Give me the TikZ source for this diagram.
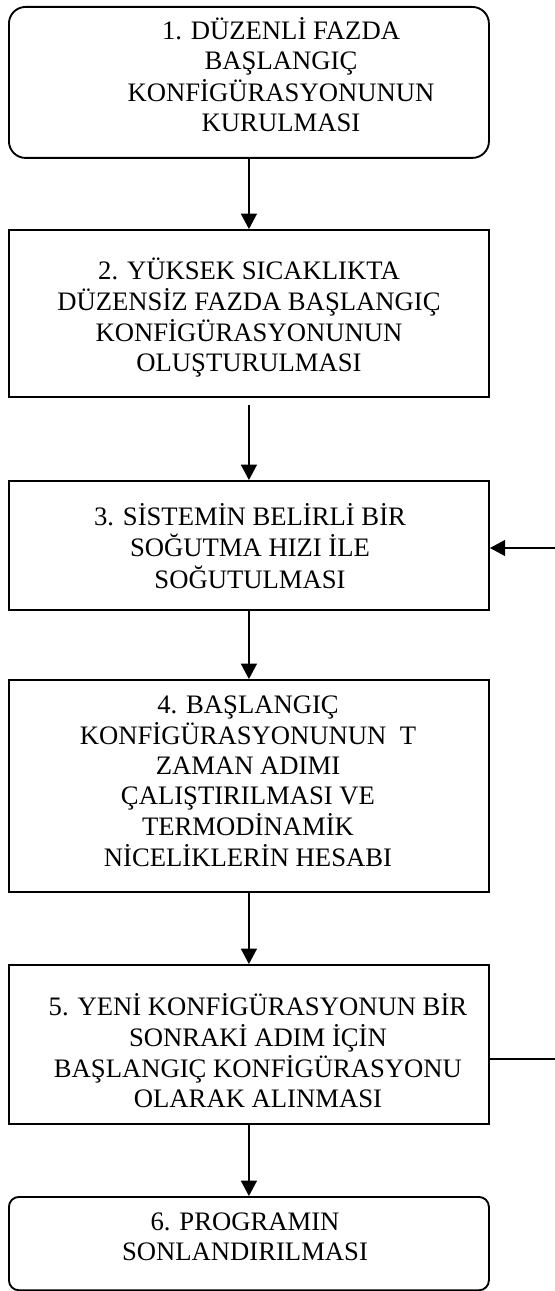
\documentclass[tikz,border=0pt]{standalone}
\usepackage{fontspec}
\setmainfont{Liberation Serif}
\usetikzlibrary{arrows.meta}
\begin{document}
\begin{tikzpicture}[x=0.75pt,y=-0.75pt,
  boxline/.style={draw=black,line width=1.4pt},
  stepbox/.style={boxline,rectangle,anchor=north west,inner sep=0pt},
  roundbox/.style={stepbox,rounded corners=#1},
  txt/.style={anchor=base,inner sep=0pt,font=\fontsize{20pt}{22.5pt}\selectfont},
  arr/.style={draw=black,line width=1pt,-{Triangle[length=11.5pt,width=12pt]}}]
\useasboundingbox (0,0) rectangle (555,1291);
\def\lns#1{\setlength\tabcolsep{0pt}\begin{tabular}[t]{c}#1\end{tabular}}
% boxes
\node[roundbox=12.5pt,minimum width=360pt,minimum height=113.25pt] (b1) at (8,6) {};
\node[stepbox,minimum width=360pt,minimum height=125.25pt] (b2) at (8,229) {};
\node[stepbox,minimum width=360pt,minimum height=96.75pt] (b3) at (8,480) {};
\node[stepbox,minimum width=360pt,minimum height=159pt] (b4) at (8,679) {};
\node[stepbox,minimum width=360pt,minimum height=119.25pt] (b5) at (8,964) {};
\node[roundbox=7.5pt,minimum width=360pt,minimum height=70pt] (b6) at (8,1196) {};
% texts
\node[txt] (t1) at (281,40) {\lns{1. DÜZENLİ FAZDA\\BAŞLANGIÇ\\KONFİGÜRASYONUNUN\\KURULMASI}};
\node[txt] (t2) at (249,279) {\lns{2. YÜKSEK SICAKLIKTA\\DÜZENSİZ FAZDA BAŞLANGIÇ\\KONFİGÜRASYONUNUN\\OLUŞTURULMASI}};
\node[txt] (t3) at (250,525) {\lns{3. SİSTEMİN BELİRLİ BİR\\SOĞUTMA HIZI İLE\\SOĞUTULMASI}};
\node[txt] (t4) at (248,713) {\lns{4. BAŞLANGIÇ\\KONFİGÜRASYONUNUN\ \ T\\ZAMAN ADIMI\\ÇALIŞTIRILMASI VE\\TERMODİNAMİK\\NİCELİKLERİN HESABI}};
\node[txt] (t5) at (258,1015) {\lns{5. YENİ KONFİGÜRASYONUN BİR\\SONRAKİ ADIM İÇİN\\BAŞLANGIÇ KONFİGÜRASYONU\\OLARAK ALINMASI}};
\node[txt] (t6) at (245,1230) {\lns{6. PROGRAMIN\\SONLANDIRILMASI}};
% connectors
\draw[arr] (b1.south) -- (b2.north);
\draw[arr,shorten <=5.25pt] (b2.south) -- (b3.north);
\draw[arr] (b3.south) -- (b4.north);
\draw[arr] (b4.south) -- (b5.north);
\draw[arr] (b5.south) -- (b6.north);
\coordinate (r5) at (555,1059);
\coordinate (r3) at (555,548);
\draw[draw=black,line width=1pt] (b5.east |- r5) -- (r5);
\draw[arr] (r3) -- (b3.east |- r3);
\end{tikzpicture}
\end{document}
